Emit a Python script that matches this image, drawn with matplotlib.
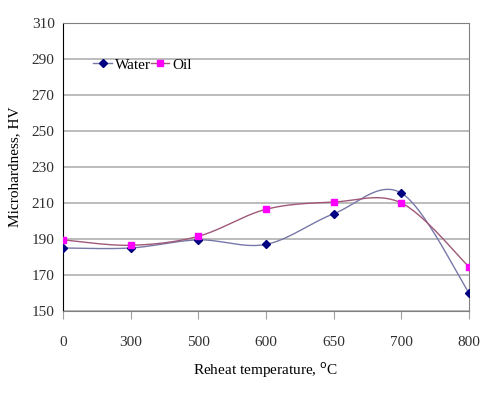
import numpy as np
import matplotlib

matplotlib.use("Agg")
import matplotlib.pyplot as plt
from matplotlib.lines import Line2D

# reheat temperature categories (evenly spaced on the chart)
temps = ["0", "300", "500", "600", "650", "700", "800"]
water_hv = [185, 185, 189.5, 187, 204, 215.5, 160]
oil_hv = [189.5, 186.5, 191.5, 206.5, 210.5, 210, 174.5]


def smooth(xs, ys, n=30):
    # Catmull-Rom style smoothing, like the spreadsheet "smoothed line"
    xs = np.asarray(xs, float)
    ys = np.asarray(ys, float)
    px = np.concatenate([[xs[0]], xs, [xs[-1]]])
    py = np.concatenate([[ys[0]], ys, [ys[-1]]])
    ox, oy = [], []
    for i in range(1, len(px) - 2):
        p0 = np.array([px[i], py[i]])
        p3 = np.array([px[i + 1], py[i + 1]])
        c1 = p0 + (p3 - np.array([px[i - 1], py[i - 1]])) / 6
        c2 = p3 - (np.array([px[i + 2], py[i + 2]]) - p0) / 6
        t = np.linspace(0, 1, n)[:, None]
        b = (1 - t) ** 3 * p0 + 3 * (1 - t) ** 2 * t * c1 + 3 * (1 - t) * t ** 2 * c2 + t ** 3 * p3
        ox.extend(b[:, 0])
        oy.extend(b[:, 1])
    return ox, oy


plt.rcParams["font.family"] = ["Liberation Serif", "DejaVu Serif"]

fig = plt.figure(figsize=(4.99, 3.95), dpi=100)
ax = fig.add_axes([0.1263, 0.2127, 0.8136, 0.7291])

x = np.arange(len(temps))
wx, wy = smooth(x, water_hv)
ox, oy = smooth(x, oil_hv)

ax.plot(wx, wy, color="#7878a8", lw=1.0, zorder=3)
ax.plot(ox, oy, color="#a05878", lw=1.0, zorder=3)
ax.plot(x, water_hv, ls="none", marker="D", ms=4.2, color="#000080", zorder=4)
ax.plot(x, oil_hv, ls="none", marker="s", ms=4.8, color="#ff00ff", zorder=4)

ax.set_xlim(0, len(temps) - 1)
ax.set_ylim(150, 310)
ax.set_yticks(np.arange(150, 311, 20))
ax.set_xticks(x)
ax.set_xticklabels(temps)
ax.yaxis.grid(True, color="#b0b0b0", lw=1.2)
ax.set_axisbelow(True)

for side in ["top", "right"]:
    ax.spines[side].set_color("#808080")
ax.spines["left"].set_color("black")
ax.spines["bottom"].set_color("#808080")
ax.tick_params(axis="y", length=0, pad=6, labelsize=11, colors="#303030")
ax.tick_params(axis="x", direction="out", length=6, color="#a0a0a0", pad=12,
               labelsize=11, labelcolor="#303030")

ax.set_xlabel("Reheat temperature, $^{\\rm o}$C", fontsize=11, labelpad=8)
ax.set_ylabel("Microhardness, HV", fontsize=11, labelpad=8)

handles = [
    Line2D([], [], color="#7878a8", marker="D", ms=4.2, mfc="#000080", mec="#000080", lw=1),
    Line2D([], [], color="#a05878", marker="s", ms=4.8, mfc="#ff00ff", mec="#ff00ff", lw=1),
]
ax.legend(handles, ["Water", "Oil"], loc="upper left", bbox_to_anchor=(0.06, 0.9),
          ncol=2, frameon=False, fontsize=11, handlelength=1.2, handletextpad=0.2,
          columnspacing=0.0, borderaxespad=0)

fig.savefig("out.png", dpi=100)
